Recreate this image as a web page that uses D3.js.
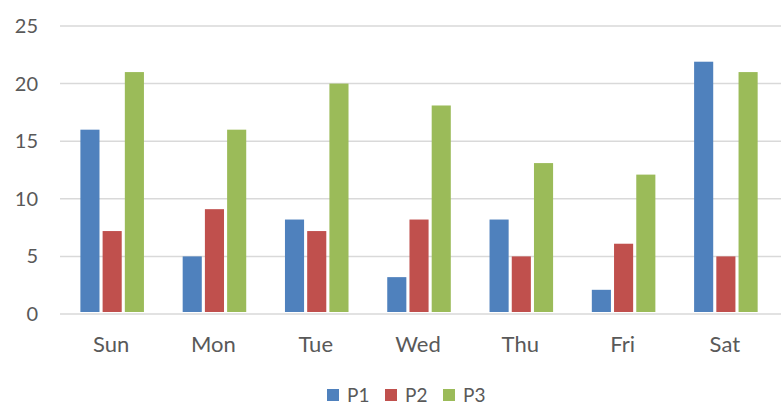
<!DOCTYPE html>
<html><head><meta charset="utf-8">
<script src="https://cdn.jsdelivr.net/npm/d3@7"></script>
<style>body{margin:0;background:#fff}svg{display:block}text{font-family:Lato,"Open Sans",sans-serif;fill:#595959}</style>
</head><body>
<svg id="c" width="781" height="405"></svg>
<script>
const categories = ["Sun","Mon","Tue","Wed","Thu","Fri","Sat"];
const seriesNames = ["P1","P2","P3"];
const p1 = [16, 5, 8.2, 3.2, 8.2, 2.1, 21.9];
const p2 = [7.2, 9.1, 7.2, 8.2, 5, 6.1, 5];
const p3 = [21, 16, 20, 18.1, 13.1, 12.1, 21];
const colors = ["#4F81BD","#C0504D","#9BBB59"];
const yTicks = [0,5,10,15,20,25];

const seriesValues = [p1,p2,p3];
const svg = d3.select("#c");
const m = {l:60, r:5, t:26, b:91};
const W = 781, H = 405;
const x = d3.scaleBand().domain(categories).range([m.l, W - m.r]).paddingInner(0).paddingOuter(0);
const bw = x.bandwidth();
const xs = d3.scaleBand().domain(seriesNames).range([bw*0.195, bw*0.825]).paddingInner(0.14).paddingOuter(0.02);
const y = d3.scaleLinear().domain([0,25]).range([H - m.b, m.t]);

const grid = svg.append("g");
grid.selectAll("line").data(yTicks).join("line")
  .attr("x1", m.l).attr("x2", W).attr("y1", d=>y(d)).attr("y2", d=>y(d))
  .attr("stroke", "#D9D9D9").attr("stroke-width", 1.5);

const yAxis = svg.append("g").attr("transform", `translate(${m.l},0)`)
  .call(d3.axisLeft(y).tickValues(yTicks).tickSize(0).tickPadding(22));
yAxis.select(".domain").remove();
yAxis.selectAll("text").style("font-size","20px").attr("fill","#595959");

const groups = svg.append("g").selectAll("g").data(categories).join("g")
  .attr("transform", d => `translate(${x(d)},0)`);
groups.selectAll("rect").data((d,i) => seriesNames.map((s,j)=>({s, v: seriesValues[j][i], j})))
  .join("rect")
  .attr("x", d => xs(d.s)).attr("width", xs.bandwidth())
  .attr("y", d => y(d.v)).attr("height", d => y(0) - 2 - y(d.v))
  .attr("fill", d => colors[d.j]);

const xAxis = svg.append("g").attr("transform", `translate(0,${y(0)})`)
  .call(d3.axisBottom(x).tickSize(0).tickPadding(22));
xAxis.select(".domain").remove();
xAxis.selectAll("text").style("font-size","22px").attr("fill","#595959");

const legX = [327, 385, 443];
const leg = svg.append("g").selectAll("g").data(seriesNames).join("g")
  .attr("transform", (d,i) => `translate(${legX[i]},389)`);
leg.append("rect").attr("width", 12).attr("height", 12).attr("fill", (d,i)=>colors[i]);
leg.append("text").attr("x", 20).attr("y", 12.5).style("font-size","19px").text(d=>d);
</script>
</body></html>
